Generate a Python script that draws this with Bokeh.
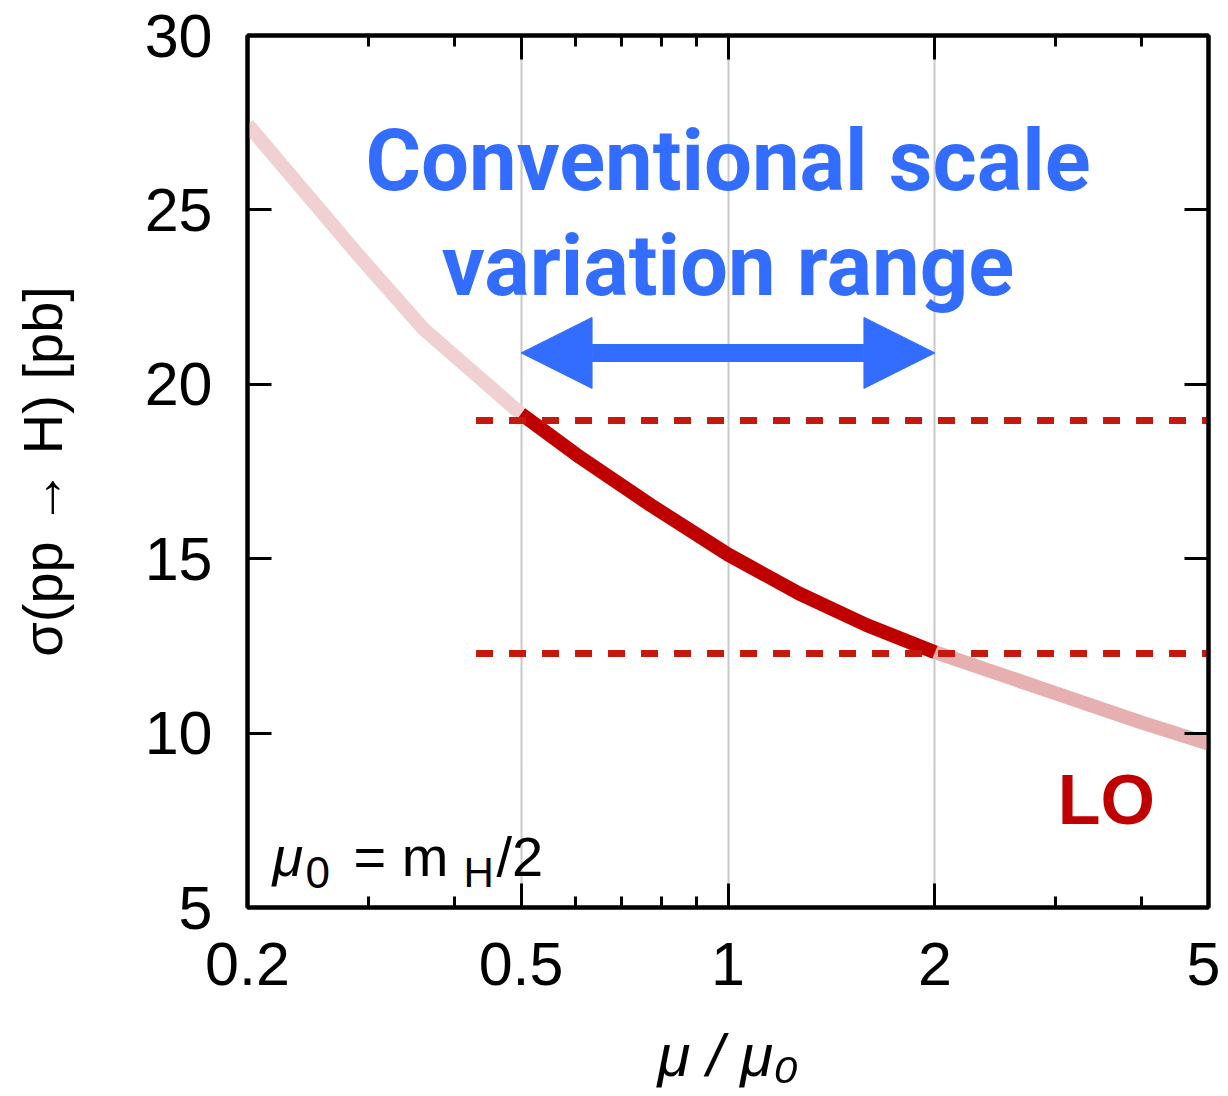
from bokeh.plotting import figure
from bokeh.models import (Range1d, FixedTicker, LogAxis, LinearAxis, Label,
                          Arrow, NormalHead, CustomJSTickFormatter)
from bokeh.embed import file_html
from bokeh.resources import INLINE

# ---- data ----
mu = [0.2, 0.25, 0.29, 0.36, 0.5, 0.61, 0.77, 1.0, 1.27, 1.59, 2.0, 3.0, 4.0, 5.0]
sigma_lo = [27.45, 25.2, 23.7, 21.6, 19.15, 17.9, 16.55, 15.12, 14.0, 13.1, 12.32, 11.14, 10.30, 9.70]
band_x = [0.43, 5.0]
band_hi = 18.96   # sigma at mu = 0.5
band_lo = 12.28   # sigma at mu = 2
range_lo, range_hi = 0.5, 2.0
arrow_y = 20.9
x_ticks = [0.2, 0.5, 1, 2, 5]
x_minor = [0.3, 0.4, 0.6, 0.7, 0.8, 0.9, 3, 4]
y_ticks = [5, 10, 15, 20, 25, 30]
grid_x = [0.5, 1, 2]

BLUE = "#336dff"
DARK = "#c00000"
DASH = "#c4190c"
FONT = "Liberation Sans"

p = figure(width=1220, height=1096, x_axis_type="log",
           x_range=Range1d(0.2, 5), y_range=Range1d(5, 30),
           output_backend="svg", toolbar_location=None,
           min_border_left=247, min_border_right=12,
           min_border_top=35, min_border_bottom=189)
p.background_fill_color = "white"
p.border_fill_color = "white"
p.outline_line_color = "black"
p.outline_line_width = 4

# grid
p.ygrid.visible = False
p.xgrid.ticker = FixedTicker(ticks=grid_x)
p.xgrid.grid_line_color = "#c8c8c8"
p.xgrid.grid_line_width = 2

xt = FixedTicker(ticks=x_ticks, minor_ticks=x_minor)
yt = FixedTicker(ticks=y_ticks)

def style(ax, show_labels):
    ax.axis_line_width = 4
    ax.major_tick_line_width = 3
    ax.minor_tick_line_width = 3
    ax.major_tick_in = 24
    ax.major_tick_out = 0
    ax.minor_tick_in = 11
    ax.minor_tick_out = 0
    ax.major_label_text_font = FONT
    ax.major_label_text_color = "black"
    if not show_labels:
        ax.major_label_text_color = None
        ax.major_label_standoff = 0

xa = p.xaxis[0]
xa.ticker = xt
xa.formatter = CustomJSTickFormatter(code="return tick.toString();")
style(xa, True)
xa.major_label_text_font_size = "61px"
xa.major_label_standoff = 35
xa.axis_label = "μ / μ₀"
xa.axis_label_text_font = FONT
xa.axis_label_text_font_style = "italic"
xa.axis_label_text_color = "black"
xa.axis_label_text_font_size = "60px"
xa.axis_label_standoff = 34

ya = p.yaxis[0]
ya.ticker = yt
style(ya, True)
ya.major_label_text_font_size = "61px"
ya.major_label_standoff = 35
ya.axis_label = "σ(pp → H) [pb]"
ya.axis_label_text_font = FONT
ya.axis_label_text_font_style = "normal"
ya.axis_label_text_color = "black"
ya.axis_label_text_font_size = "56px"
ya.axis_label_standoff = 68

top = LogAxis(ticker=xt)
style(top, False)
p.add_layout(top, "above")
right = LinearAxis(ticker=FixedTicker(ticks=y_ticks))
style(right, False)
p.add_layout(right, "right")

# curve: faint outside the conventional range, solid inside
p.line(mu[0:5], sigma_lo[0:5], line_color="#f0d0d0", line_width=14, line_join="round")
p.line(mu[10:], sigma_lo[10:], line_color="#e6b0b0", line_width=14, line_join="round")
p.line(mu[4:11], sigma_lo[4:11], line_color=DARK, line_width=14, line_join="round")

# band limits
p.line(band_x, [band_hi, band_hi], line_color=DASH, line_width=7, line_dash="17 16")
p.line(band_x, [band_lo, band_lo], line_color=DASH, line_width=7, line_dash="17 16")

# double arrow
head = dict(size=71, fill_color=BLUE, line_color=BLUE, line_width=1)
p.add_layout(Arrow(x_start=range_lo, y_start=arrow_y, x_end=range_hi, y_end=arrow_y,
                   start=NormalHead(**head), end=NormalHead(**head),
                   line_color=BLUE, line_width=18))

# texts (y_offset compensates Label baseline placement)
p.add_layout(Label(x=1, y=25.61, y_offset=28, text="Conventional scale", text_align="center",
                   text_baseline="alphabetic", text_font="Roboto", text_font_style="bold",
                   text_font_size="85px", text_color=BLUE))
p.add_layout(Label(x=1, y=22.60, y_offset=28, text="variation range", text_align="center",
                   text_baseline="alphabetic", text_font="Roboto", text_font_style="bold",
                   text_font_size="85px", text_color=BLUE))
p.add_layout(Label(x=3.55, y=7.35, y_offset=26, text="LO", text_align="center",
                   text_baseline="alphabetic", text_font=FONT, text_font_style="bold",
                   text_font_size="70px", text_color=DARK))

# mu0 = mH/2
def piece(txt, dx, dy, size, italic=False):
    p.add_layout(Label(x=0.2, y=5, x_offset=dx, y_offset=dy, text=txt,
                       text_align="left", text_baseline="alphabetic",
                       text_font=FONT, text_font_style="italic" if italic else "normal",
                       text_font_size=size, text_color="black"))

piece("μ", 25, 51, "56px", True)
piece("0", 58, 35, "44px")
piece("= m", 106, 51, "56px")
piece("H", 216, 35, "42px")
piece("/2", 249, 51, "56px")

open("out.html", "w").write(file_html(p, INLINE))
